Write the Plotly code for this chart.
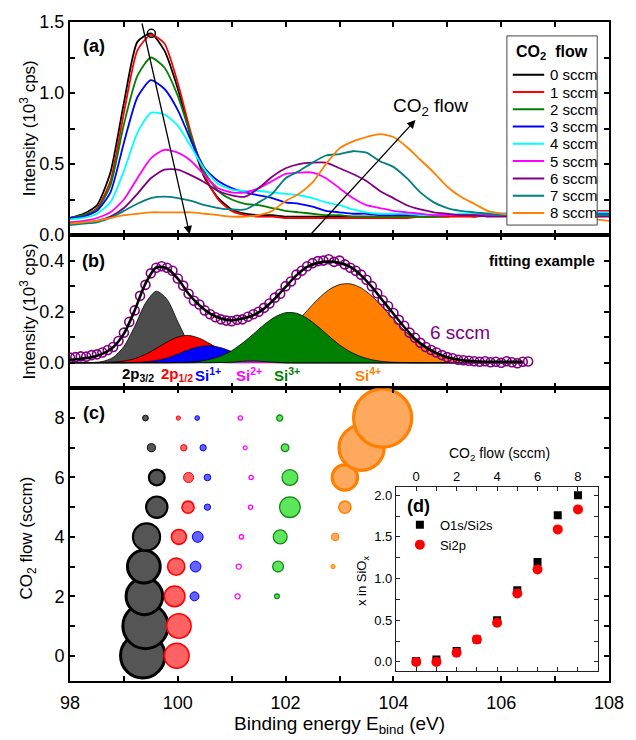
import plotly.graph_objects as go

# ======================= DATA =======================
# (a) Si 2p spectra for different CO2 flows (intensity in 10^3 cps)
energy_a = [98.00, 98.25, 98.50, 98.75, 99.00, 99.25, 99.50, 99.75, 100.00, 100.25,
            100.50, 100.75, 101.00, 101.25, 101.50, 101.75, 102.00, 102.25, 102.50, 102.75,
            103.00, 103.25, 103.50, 103.75, 104.00, 104.25, 104.50, 104.75, 105.00, 105.25,
            105.50, 105.75, 106.00, 106.25, 106.50, 106.75, 107.00, 107.25, 107.50, 107.75, 108.00]
flow_labels = ["0 sccm", "1 sccm", "2 sccm", "3 sccm", "4 sccm", "5 sccm", "6 sccm", "7 sccm", "8 sccm"]
int_0 = [0.12,0.15,0.21,0.44,0.93,1.36,1.42,1.30,1.03,0.68,0.40,0.26,0.18,0.15,0.14,0.14,0.13,0.13,0.13,0.13,
         0.13,0.13,0.13,0.13,0.13,0.13,0.13,0.13,0.13,0.14,0.13,0.14,0.14,0.14,0.14,0.15,0.14,0.15,0.15,0.15,0.15]
int_1 = [0.12,0.14,0.19,0.38,0.86,1.30,1.41,1.35,1.07,0.71,0.42,0.25,0.17,0.14,0.13,0.13,0.12,0.12,0.12,0.12,
         0.12,0.12,0.12,0.12,0.12,0.12,0.13,0.13,0.13,0.13,0.13,0.14,0.14,0.15,0.15,0.15,0.16,0.16,0.16,0.17,0.17]
int_2 = [0.12,0.14,0.18,0.35,0.78,1.12,1.25,1.18,0.98,0.69,0.44,0.31,0.25,0.22,0.21,0.19,0.17,0.16,0.15,0.14,
         0.14,0.13,0.13,0.13,0.13,0.13,0.13,0.13,0.14,0.14,0.14,0.14,0.14,0.14,0.15,0.15,0.15,0.15,0.15,0.15,0.15]
int_3 = [0.12,0.13,0.17,0.30,0.65,0.97,1.09,1.03,0.88,0.66,0.47,0.38,0.33,0.30,0.28,0.26,0.23,0.22,0.20,0.17,
         0.16,0.15,0.15,0.14,0.14,0.14,0.14,0.14,0.14,0.14,0.14,0.15,0.15,0.15,0.15,0.15,0.15,0.15,0.16,0.15,0.15]
int_4 = [0.11,0.12,0.15,0.23,0.45,0.72,0.86,0.85,0.77,0.62,0.46,0.36,0.32,0.31,0.31,0.30,0.29,0.28,0.26,0.23,
         0.21,0.18,0.16,0.15,0.15,0.15,0.14,0.14,0.14,0.15,0.15,0.15,0.15,0.15,0.15,0.16,0.16,0.16,0.16,0.16,0.16]
int_5 = [0.09,0.10,0.12,0.16,0.25,0.40,0.54,0.60,0.58,0.52,0.42,0.33,0.30,0.30,0.33,0.38,0.43,0.44,0.44,0.40,
         0.33,0.26,0.21,0.19,0.17,0.16,0.15,0.14,0.14,0.14,0.14,0.14,0.14,0.14,0.14,0.14,0.14,0.14,0.14,0.14,0.14]
int_6 = [0.08,0.09,0.10,0.13,0.19,0.29,0.40,0.46,0.46,0.42,0.37,0.31,0.28,0.27,0.33,0.41,0.47,0.50,0.51,0.51,
         0.47,0.43,0.38,0.31,0.26,0.21,0.18,0.16,0.15,0.14,0.14,0.13,0.13,0.13,0.13,0.13,0.13,0.13,0.13,0.13,0.13]
int_7 = [0.07,0.08,0.09,0.12,0.17,0.22,0.26,0.27,0.26,0.24,0.21,0.19,0.18,0.18,0.23,0.29,0.40,0.45,0.51,0.56,
         0.57,0.59,0.58,0.52,0.48,0.40,0.30,0.23,0.19,0.17,0.16,0.15,0.14,0.14,0.14,0.14,0.14,0.14,0.14,0.14,0.14]
int_8 = [0.08,0.09,0.10,0.12,0.14,0.15,0.16,0.16,0.16,0.16,0.15,0.14,0.13,0.13,0.14,0.17,0.24,0.29,0.37,0.50,
         0.61,0.66,0.69,0.71,0.69,0.62,0.53,0.44,0.34,0.27,0.22,0.17,0.15,0.14,0.13,0.13,0.13,0.12,0.12,0.11,0.10]
spectra = [int_0, int_1, int_2, int_3, int_4, int_5, int_6, int_7, int_8]
peak_E = [99.51]
peak_I = [1.42]

# (b) fitting example, 6 sccm
meas_E = [98.0,98.1,98.2,98.3,98.4,98.5,98.6,98.7,98.8,98.9,
          99.0,99.1,99.2,99.3,99.4,99.5,99.6,99.7,99.8,99.9,
          100.0,100.1,100.2,100.3,100.4,100.5,100.6,100.7,100.8,100.9,
          101.0,101.1,101.2,101.3,101.4,101.5,101.6,101.7,101.8,101.9,
          102.0,102.1,102.2,102.3,102.4,102.5,102.6,102.7,102.8,102.9,
          103.0,103.1,103.2,103.3,103.4,103.5,103.6,103.7,103.8,103.9,
          104.0,104.1,104.2,104.3,104.4,104.5,104.6,104.7,104.8,104.9,
          105.0,105.1,105.2,105.3,105.4,105.5,105.6,105.7,105.8,105.9,
          106.0,106.1,106.2,106.3,106.4,106.5]
meas_I = [0.020,0.022,0.025,0.024,0.030,0.033,0.040,0.050,0.062,0.085,
          0.118,0.160,0.205,0.262,0.305,0.350,0.372,0.378,0.372,0.360,
          0.330,0.302,0.270,0.243,0.228,0.205,0.190,0.178,0.170,0.165,
          0.163,0.168,0.170,0.180,0.190,0.200,0.215,0.232,0.255,0.270,
          0.300,0.318,0.345,0.360,0.378,0.390,0.398,0.400,0.405,0.395,
          0.400,0.385,0.372,0.360,0.345,0.325,0.300,0.272,0.245,0.222,
          0.195,0.168,0.145,0.118,0.098,0.078,0.062,0.050,0.040,0.030,
          0.022,0.018,0.012,0.010,0.008,0.006,0.004,0.006,0.002,0.004,
          0.000,0.006,0.002,-0.002,0.004,0.005]
energy_b = [98.0,98.2,98.4,98.6,98.8,99.0,99.2,99.4,99.6,99.8,
            100.0,100.2,100.4,100.6,100.8,101.0,101.2,101.4,101.6,101.8,
            102.0,102.2,102.4,102.6,102.8,103.0,103.2,103.4,103.6,103.8,
            104.0,104.2,104.4,104.6,104.8,105.0,105.2,105.4,105.6,105.8,
            106.0,106.2,106.4]
fit_I = [0.012,0.016,0.022,0.035,0.061,0.114,0.205,0.310,0.373,0.369,
         0.329,0.270,0.225,0.192,0.173,0.166,0.173,0.186,0.212,0.251,
         0.297,0.342,0.375,0.391,0.396,0.391,0.375,0.342,0.297,0.244,
         0.192,0.140,0.094,0.061,0.038,0.022,0.013,0.008,0.005,0.004,
         0.004,0.004,0.004]
comp_2p32 = [0,0,0.001,0.005,0.021,0.064,0.142,0.233,0.280,0.248,
             0.161,0.077,0.027,0.007,0.001,0,0,0,0,0,
             0,0,0,0,0,0,0,0,0,0, 0,0,0,0,0,0,0,0,0,0, 0,0,0]
comp_2p12 = [0,0,0,0.001,0.003,0.007,0.016,0.033,0.056,0.081,
             0.101,0.107,0.096,0.074,0.048,0.027,0.013,0.005,0.002,0.001,
             0,0,0,0,0,0,0,0,0,0, 0,0,0,0,0,0,0,0,0,0, 0,0,0]
comp_si1 = [0,0,0,0,0,0,0.001,0.004,0.009,0.019,
            0.034,0.051,0.063,0.067,0.059,0.044,0.028,0.015,0.006,0.002,
            0.001,0,0,0,0,0,0,0,0,0, 0,0,0,0,0,0,0,0,0,0, 0,0,0]
comp_si2 = [0,0,0,0,0,0,0,0,0,0,
            0,0,0,0,0.001,0.002,0.006,0.007,0.005,0.002,
            0,0,0,0,0,0,0,0,0,0, 0,0,0,0,0,0,0,0,0,0, 0,0,0]
comp_si3 = [0,0,0,0,0,0,0,0,0,0,
            0.001,0.003,0.006,0.014,0.027,0.047,0.077,0.112,0.149,0.179,
            0.196,0.194,0.174,0.142,0.105,0.070,0.043,0.024,0.012,0.005,
            0.002,0.001,0,0,0,0,0,0,0,0, 0,0,0]
comp_si4 = [0,0,0,0,0,0,0,0,0,0,
            0,0,0.001,0.002,0.005,0.009,0.017,0.030,0.050,0.078,
            0.114,0.158,0.204,0.249,0.285,0.306,0.309,0.293,0.261,0.218,
            0.172,0.127,0.088,0.057,0.035,0.020,0.011,0.006,0.003,0.001,
            0,0,0]

# (c) component positions (eV) and relative areas (arb. u.) vs CO2 flow
flow_c = [0, 1, 2, 3, 4, 5, 6, 7, 8]
pos_2p32 = [99.35, 99.40, 99.38, 99.37, 99.42, 99.61, 99.61, 99.51, 99.40]
area_2p32 = [54.3, 56.2, 36.9, 29.6, 20.2, 12.5, 6.9, 1.8, 0.9]
pos_2p12 = [99.98, 100.02, 99.94, 99.97, 100.02, 100.19, 100.20, 100.11, 100.01]
area_2p12 = [16.9, 16.4, 11.7, 8.1, 6.1, 4.0, 2.8, 1.1, 0.5]
pos_si1 = [None, None, 100.31, 100.33, 100.37, 100.55, 100.55, 100.47, 100.36]
area_si1 = [None, None, 2.2, 3.2, 3.2, 1.1, 1.2, 1.1, 0.6]
pos_si2 = [None, None, 101.11, 101.13, 101.18, 101.35, 101.36, 101.25, 101.16]
area_si2 = [None, None, 0.7, 0.7, 0.5, 0.5, 0.5, 0.4, 0.5]
pos_si3 = [None, None, 101.84, 101.86, 101.90, 102.08, 102.08, 101.99, 101.89]
area_si3 = [None, None, 0.6, 3.2, 5.3, 11.7, 6.9, 1.6, 1.0]
pos_si4 = [None, None, None, 102.88, 102.92, 103.10, 103.10, 103.41, 103.80]
area_si4 = [None, None, None, 0.5, 1.6, 4.0, 17.7, 56.2, 93.0]

# (d) stoichiometry x in SiOx
flow_d = [0, 1, 2, 3, 4, 5, 6, 7, 8]
x_o1s_si2s = [0.01, 0.03, 0.13, 0.27, 0.50, 0.86, 1.20, 1.76, 2.00]
x_si2p = [0.00, 0.00, 0.11, 0.27, 0.47, 0.82, 1.11, 1.59, 1.83]

# ======================= LAYOUT HELPERS =======================
W, H = 636, 740
L, R, T, B = 70, 17, 19, 59
PW, PH = W - L - R, H - T - B
def px(x): return (x - L) / PW
def py(y): return (H - B - y) / PH

FONT = "Liberation Sans, Arial, sans-serif"
spec_colors = ["#000000", "#ff0000", "#008000", "#0000ff", "#00ffff",
               "#ff00ff", "#800080", "#008080", "#ff8000"]

fig = go.Figure()

# ---- (a) spectra ----
for i, ys in enumerate(spectra):
    fig.add_trace(go.Scatter(x=energy_a, y=ys, mode="lines", name=flow_labels[i],
                             line=dict(color=spec_colors[i], width=1.8, shape="spline", smoothing=0.6),
                             xaxis="x", yaxis="y", showlegend=False))
fig.add_trace(go.Scatter(x=peak_E, y=peak_I, mode="markers", showlegend=False,
                         marker=dict(symbol="circle-open", size=8, color="black", line=dict(width=1.5)),
                         xaxis="x", yaxis="y"))

# ---- (b) fit ----
comp_list = [(comp_si4, "#ff8000"), (comp_2p32, "#4d4d4d"), (comp_2p12, "#ff0000"),
             (comp_si1, "#0000ff"), (comp_si3, "#008000"), (comp_si2, "#ff00ff")]
for ys, col in comp_list:
    fig.add_trace(go.Scatter(x=energy_b, y=ys, mode="lines", fill="tozeroy", fillcolor=col,
                             line=dict(color="black", width=0.8, shape="spline", smoothing=0.8),
                             xaxis="x2", yaxis="y2", showlegend=False))
fig.add_trace(go.Scatter(x=meas_E, y=meas_I, mode="markers", showlegend=False,
                         marker=dict(symbol="circle-open", size=9, color="#800080", line=dict(width=1.6)),
                         xaxis="x2", yaxis="y2"))
fig.add_trace(go.Scatter(x=energy_b, y=fit_I, mode="lines", showlegend=False,
                         line=dict(color="black", width=2.6, shape="spline", smoothing=0.8),
                         xaxis="x2", yaxis="y2"))

# ---- (c) bubbles ----
def bubble(pos, area, fill, line, lw):
    xs, ys, ss, ws = [], [], [], []
    for k, (p, a) in enumerate(zip(pos, area)):
        if p is None:
            continue
        xs.append(p); ys.append(flow_c[k]); ss.append(a)
        ws.append(lw(a))
    fig.add_trace(go.Scatter(x=xs, y=ys, mode="markers", showlegend=False,
                             marker=dict(size=ss, sizemode="area", sizeref=0.055, color=fill,
                                         line=dict(color=line, width=ws), opacity=1),
                             xaxis="x3", yaxis="y3"))

bubble(pos_2p32, area_2p32, "#555555", "#000000", lambda a: 3 if a > 25 else (2.2 if a > 5 else 1))
bubble(pos_2p12, area_2p12, "#ff6262", "#ff0000", lambda a: 1.6 if a > 3 else 1)
bubble(pos_si1, area_si1, "#6262ff", "#0000ff", lambda a: 1)
bubble(pos_si2, area_si2, "#ffffff", "#ff00ff", lambda a: 1.3)
bubble(pos_si3, area_si3, "#5ce65c", "#168a16", lambda a: 1.3)
bubble(pos_si4, area_si4, "#ffa95e", "#ff8000", lambda a: 3.2 if a > 15 else (1.6 if a > 3 else 1))

# ---- (d) inset ----
fig.add_trace(go.Scatter(x=flow_d, y=x_o1s_si2s, mode="markers", name="O1s/Si2s",
                         marker=dict(symbol="square", size=8, color="black"),
                         xaxis="x4", yaxis="y4", showlegend=True))
fig.add_trace(go.Scatter(x=flow_d, y=x_si2p, mode="markers", name="Si2p",
                         marker=dict(symbol="circle", size=10, color="#ff0000"),
                         xaxis="x4", yaxis="y4", showlegend=True))

# ======================= AXES =======================
tick_common = dict(showline=True, linecolor="black", linewidth=2, mirror="allticks",
                   ticks="inside", ticklen=5, tickwidth=1.5, tickcolor="black",
                   showgrid=False, zeroline=False,
                   tickfont=dict(size=18, color="black", family=FONT))
minor_common = dict(ticks="inside", ticklen=5, tickwidth=1.5, tickcolor="black", showgrid=False)

yd_a = [py(233), 1.0]
yd_b = [py(387), py(233)]
yd_c = [0.0, py(387)]

fig.update_layout(
    xaxis=dict(domain=[0, 1], anchor="y", range=[98, 108], tick0=98, dtick=2,
               showticklabels=False, minor=dict(dtick=1, **minor_common), **tick_common),
    yaxis=dict(domain=yd_a, anchor="x", range=[0, 1.5], tick0=0, dtick=0.5, tickformat=".1f",
               minor=dict(dtick=0.25, **minor_common), **tick_common),
    xaxis2=dict(domain=[0, 1], anchor="y2", range=[98, 108], tick0=98, dtick=2,
                showticklabels=False, minor=dict(dtick=1, **minor_common), **tick_common),
    yaxis2=dict(domain=yd_b, anchor="x2", range=[-0.1, 0.5], tickvals=[0, 0.2, 0.4], tickformat=".1f",
                minor=dict(tickvals=[-0.1, 0.1, 0.3, 0.5], **minor_common), **tick_common),
    xaxis3=dict(domain=[0, 1], anchor="y3", range=[98, 108], tick0=98, dtick=2,
                showticklabels=True, ticklabelstandoff=4,
                minor=dict(dtick=1, **minor_common), **tick_common),
    yaxis3=dict(domain=yd_c, anchor="x3", range=[-0.85, 9.0], tick0=0, dtick=2,
                minor=dict(dtick=1, **minor_common), **tick_common),
    xaxis4=dict(domain=[px(402), px(608)], anchor="y4", side="top", range=[-1, 9], tick0=0, dtick=2,
                showline=True, linecolor="#222", linewidth=1, mirror="allticks", ticks="inside",
                ticklen=4, tickwidth=1, tickcolor="#222", showgrid=False, zeroline=False,
                tickfont=dict(size=13, color="black", family=FONT),
                minor=dict(dtick=1, ticks="inside", ticklen=4, tickwidth=1, tickcolor="#222")),
    yaxis4=dict(domain=[py(671), py(486)], anchor="x4", range=[-0.11, 2.1], tick0=0, dtick=0.5,
                tickformat=".1f", showline=True, linecolor="#222", linewidth=1, mirror="allticks",
                ticks="inside", ticklen=4, tickwidth=1, tickcolor="#222", showgrid=False, zeroline=False,
                tickfont=dict(size=13, color="black", family=FONT),
                minor=dict(dtick=0.25, ticks="inside", ticklen=4, tickwidth=1, tickcolor="#222")),
)

# ======================= ANNOTATIONS / SHAPES =======================
ann = []
shapes = []

def text(x, y, s, size=17, color="black", xref="paper", yref="paper", xanchor="center",
         yanchor="middle", angle=0):
    ann.append(dict(x=x, y=y, xref=xref, yref=yref, text=s, showarrow=False,
                    font=dict(size=size, color=color, family=FONT),
                    xanchor=xanchor, yanchor=yanchor, textangle=angle))

# axis titles
text(px(27), py(126), "Intensity (10<sup>3</sup> cps)", angle=-90)
text(px(27), py(310), "Intensity (10<sup>3</sup> cps)", angle=-90)
text(px(27), py(537), "CO<sub>2</sub> flow (sccm)", angle=-90)
text(px(345), py(725), "Binding energy E<sub>bind</sub> (eV)", size=19)
text(px(368), py(580), "x in SiO<sub>x</sub>", size=13, angle=-90)
text(px(507), py(453), "CO<sub>2</sub> flow (sccm)", size=14)

# panel labels
text(px(94), py(43), "<b>(a)</b>", size=18)
text(px(94), py(259), "<b>(b)</b>", size=18)
text(px(94), py(412), "<b>(c)</b>", size=18)
text(px(425), py(505), "<b>(d)</b>", size=18)

# panel (a) arrows and label
ann.append(dict(x=100.22, y=0.005, ax=99.33, ay=1.50, xref="x", yref="y", axref="x", ayref="y",
                text="", showarrow=True, arrowhead=2, arrowsize=1.3, arrowwidth=1.3, arrowcolor="black"))
ann.append(dict(x=104.41, y=0.81, ax=102.43, ay=-0.01, xref="x", yref="y", axref="x", ayref="y",
                text="", showarrow=True, arrowhead=2, arrowsize=1.3, arrowwidth=1.3, arrowcolor="black"))
text(104.68, 0.90, "CO<sub>2</sub> flow", size=19, xref="x", yref="y")

# panel (a) manual legend
shapes.append(dict(type="rect", xref="paper", yref="paper", x0=px(515), x1=px(607), y0=py(223), y1=py(33),
                   line=dict(color="#444", width=1), fillcolor="white", layer="above"))
text(px(561), py(50), "<b>CO<sub>2</sub>  flow</b>", size=16)
for i, lab in enumerate(flow_labels):
    yy = 72 + 17.35 * i
    shapes.append(dict(type="line", xref="paper", yref="paper", x0=px(521), x1=px(553),
                       y0=py(yy), y1=py(yy), line=dict(color=spec_colors[i], width=2), layer="above"))
    text(px(557), py(yy), lab, size=15, xanchor="left")

# panel (b) labels
yl = -0.047
text(99.26, yl, "<b>2p<sub>3/2</sub></b>", size=15, color="black", xref="x2", yref="y2")
text(99.98, yl, "<b>2p<sub>1/2</sub></b>", size=15, color="#ff0000", xref="x2", yref="y2")
text(100.56, yl, "<b>Si<sup>1+</sup></b>", size=15, color="#0000ff", xref="x2", yref="y2")
text(101.32, yl, "<b>Si<sup>2+</sup></b>", size=15, color="#ff00ff", xref="x2", yref="y2")
text(102.03, yl, "<b>Si<sup>3+</sup></b>", size=15, color="#008000", xref="x2", yref="y2")
text(103.52, yl, "<b>Si<sup>4+</sup></b>", size=15, color="#ff8000", xref="x2", yref="y2")
text(px(607), py(259), "<b>fitting example</b>", size=15, xanchor="right")
text(105.23, 0.12, "6 sccm", size=19, color="#800080", xref="x2", yref="y2")

fig.update_layout(
    width=W, height=H, margin=dict(l=L, r=R, t=T, b=B, pad=0),
    paper_bgcolor="white", plot_bgcolor="white",
    font=dict(family=FONT, color="black"),
    annotations=ann, shapes=shapes,
    showlegend=True,
    legend=dict(x=px(406), y=py(509), xanchor="left", yanchor="top", bgcolor="rgba(0,0,0,0)",
                font=dict(size=13, family=FONT, color="black"), tracegroupgap=0,
                itemwidth=30),
)

fig.write_html("out.html",
               config={"displayModeBar": False},
               post_script="document.body.style.margin='0';document.documentElement.style.overflow='hidden';")
